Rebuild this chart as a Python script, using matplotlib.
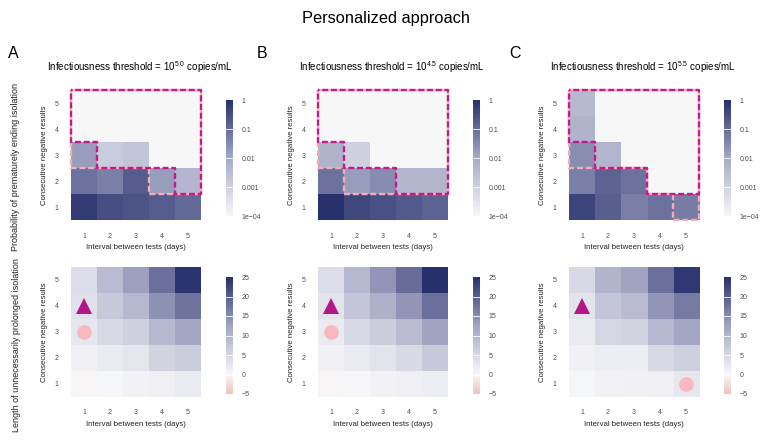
import numpy as np
import matplotlib
matplotlib.use("Agg")
import matplotlib.pyplot as plt
from matplotlib.colors import LinearSegmentedColormap, LogNorm, Normalize

plt.rcParams['font.family'] = ['Liberation Sans', 'DejaVu Sans']
plt.rcParams['mathtext.fontset'] = 'custom'
plt.rcParams['mathtext.rm'] = 'Liberation Sans'
plt.rcParams['mathtext.it'] = 'Liberation Sans'

nan = np.nan
intervals = [1, 2, 3, 4, 5]
negatives = [1, 2, 3, 4, 5]
thresholds = ["5.0", "4.5", "5.5"]
panel_letters = ["A", "B", "C"]

# probability of prematurely ending isolation, rows = consecutive negatives 1..5
prob_A = [[0.63, 0.32, 0.25, 0.18, 0.11],
          [0.08, 0.05, 0.18, 0.016, 0.005],
          [0.016, 0.0013, 0.002, nan, nan],
          [nan, nan, nan, nan, nan],
          [nan, nan, nan, nan, nan]]
prob_B = [[0.9, 0.4, 0.28, 0.2, 0.14],
          [0.08, 0.016, 0.03, 0.005, 0.005],
          [0.006, 0.001, nan, nan, nan],
          [nan, nan, nan, nan, nan],
          [nan, nan, nan, nan, nan]]
prob_C = [[0.45, 0.16, 0.05, 0.08, 0.056],
          [0.05, 0.14, 0.08, nan, nan],
          [0.028, 0.005, nan, nan, nan],
          [0.0056, nan, nan, nan, nan],
          [0.004, nan, nan, nan, nan]]

# length of unnecessarily prolonged isolation (days)
len_A = [[-0.3, 0.3, 0.8, 1.3, 2.0],
         [1.2, 2.0, 2.8, 5.5, 6.5],
         [2.5, 4.5, 6.0, 9.5, 12.0],
         [3.5, 7.0, 9.5, 14.5, 17.5],
         [4.0, 9.0, 13.0, 18.0, 24.5]]
len_B = [[-0.3, 0.2, 0.8, 1.2, 1.5],
         [1.0, 2.0, 3.0, 4.5, 7.0],
         [2.0, 4.5, 6.5, 9.0, 12.5],
         [3.0, 7.5, 10.5, 14.0, 18.0],
         [4.0, 9.5, 14.0, 18.5, 25.0]]
len_C = [[0.3, 0.8, 1.0, 1.2, 2.5],
         [1.0, 1.5, 1.5, 4.5, 6.0],
         [2.0, 5.0, 5.5, 9.5, 12.0],
         [3.0, 7.5, 9.0, 14.0, 17.0],
         [4.5, 10.0, 12.5, 18.0, 24.0]]

# outlined regions (x = interval, y = negatives), corners on cell edges
magenta_A = [(0.5, 5.5), (5.5, 5.5), (5.5, 1.5), (4.5, 1.5), (4.5, 2.5), (1.5, 2.5), (1.5, 3.5), (0.5, 3.5), (0.5, 5.5)]
pink_A = [(0.5, 5.5), (5.5, 5.5), (5.5, 1.5), (3.5, 1.5), (3.5, 2.5), (0.5, 2.5), (0.5, 5.5)]
magenta_B = [(0.5, 5.5), (5.5, 5.5), (5.5, 1.5), (3.5, 1.5), (3.5, 2.5), (1.5, 2.5), (1.5, 3.5), (0.5, 3.5), (0.5, 5.5)]
pink_B = [(0.5, 5.5), (5.5, 5.5), (5.5, 1.5), (1.5, 1.5), (1.5, 2.5), (0.5, 2.5), (0.5, 5.5)]
magenta_C = [(0.5, 5.5), (5.5, 5.5), (5.5, 1.5), (3.5, 1.5), (3.5, 2.5), (1.5, 2.5), (1.5, 3.5), (0.5, 3.5), (0.5, 5.5)]
pink_C = [(0.5, 5.5), (5.5, 5.5), (5.5, 0.5), (4.5, 0.5), (4.5, 1.5), (3.5, 1.5), (3.5, 2.5), (0.5, 2.5), (0.5, 5.5)]

# markers: triangle and circle (interval, negatives)
tri_pts = [(1, 4), (1, 4), (1, 4)]
circ_pts = [(1, 3), (1, 3), (5, 1)]

probs = [prob_A, prob_B, prob_C]
lens = [len_A, len_B, len_C]
magentas = [magenta_A, magenta_B, magenta_C]
pinks = [pink_A, pink_B, pink_C]

W, H = 771, 442
fig = plt.figure(figsize=(W / 100, H / 100), dpi=100)


def box(x0, y0, x1, y1):
    return [x0 / W, 1 - y1 / H, (x1 - x0) / W, (y1 - y0) / H]


cmap_p = LinearSegmentedColormap.from_list("p", [(0, "#f7f7f9"), (0.5, "#a6aac6"), (1, "#26306c")])
cmap_l = LinearSegmentedColormap.from_list("l", [(0, "#efc2bc"), (1 / 6, "#f8f8fa"), (0.583, "#a2a4c2"), (1, "#26306c")])
norm_p = LogNorm(1e-4, 1)
norm_l = Normalize(-5, 25)

gray = "#4d4d4d"
magenta = "#c51b8a"
pink = "#f9aab8"

fig.text(385.5 / W, 1 - 18 / H, "Personalized approach", ha="center", va="center", fontsize=11.8)
fig.text(15.5 / W, 1 - 167 / H, "Probability of prematurely ending isolation", rotation=90,
         ha="center", va="center", fontsize=6.5, color="#222222")
fig.text(17 / W, 1 - 345 / H, "Length of unnecessarily prolonged isolation", rotation=90,
         ha="center", va="center", fontsize=6.5, color="#222222")

xs = [71, 318, 569]
letter_x = [8, 257, 509]
sub_x = [140, 392, 643]


def style_axes(ax):
    ax.set_xlim(0.5, 5.5)
    ax.set_ylim(0.5, 5.5)
    ax.set_xticks(intervals)
    ax.set_yticks(negatives)
    ax.tick_params(length=0, labelsize=5, labelcolor=gray, pad=9)
    for s in ax.spines.values():
        s.set_visible(False)
    ax.set_ylabel("Consecutive negative results", fontsize=5.6, color="#222222", labelpad=5)
    ax.set_xlabel("Interval between tests (days)", fontsize=5.6, color="#222222", labelpad=3)


for i in range(3):
    x0 = xs[i]
    fig.text(letter_x[i] / W, 1 - 53 / H, panel_letters[i], ha="left", va="center", fontsize=11.5)
    fig.text(sub_x[i] / W, 1 - 67 / H,
             r"Infectiousness threshold = 10$^{" + thresholds[i] + r"}$ copies/mL",
             ha="center", va="center", fontsize=7)

    # top row: probability
    ax = fig.add_axes(box(x0, 90, x0 + 130, 220))
    ax.set_facecolor("#f7f7f7")
    ax.imshow(np.array(probs[i]), cmap=cmap_p, norm=norm_p, origin="lower",
              extent=(0.5, 5.5, 0.5, 5.5), aspect="auto", interpolation="nearest")
    px_, py_ = zip(*pinks[i])
    ax.plot(px_, py_, color=pink, lw=1.7, linestyle=(0, (2.5, 1.2)), zorder=3, clip_on=False)
    mx_, my_ = zip(*magentas[i])
    ax.plot(mx_, my_, color=magenta, lw=1.7, linestyle=(1.9, (2.5, 1.2)), zorder=4, clip_on=False)
    style_axes(ax)

    cax = fig.add_axes(box(x0 + 155, 100, x0 + 162, 216))
    cb = fig.colorbar(plt.cm.ScalarMappable(norm=norm_p, cmap=cmap_p), cax=cax)
    cb.set_ticks([1e-4, 1e-3, 1e-2, 1e-1, 1])
    cb.set_ticklabels(["1e\u221204", "0.001", "0.01", "0.1", "1"])
    cb.outline.set_visible(False)
    cax.tick_params(length=0, labelsize=5, labelcolor=gray, pad=6)
    cax.minorticks_off()
    for v in [1e-3, 1e-2, 1e-1]:
        cax.axhline(v, color="white", lw=0.6)

    # bottom row: length of prolonged isolation
    ax2 = fig.add_axes(box(x0, 267, x0 + 130, 397))
    ax2.imshow(np.array(lens[i]), cmap=cmap_l, norm=norm_l, origin="lower",
               extent=(0.5, 5.5, 0.5, 5.5), aspect="auto", interpolation="nearest")
    ax2.plot([tri_pts[i][0]], [tri_pts[i][1]], marker="^", markersize=11, color="#b5178b",
             linestyle="none", markeredgewidth=0, zorder=4)
    ax2.plot([circ_pts[i][0]], [circ_pts[i][1]], marker="o", markersize=10.5, color="#f7b9bf",
             linestyle="none", markeredgewidth=0, zorder=4)
    style_axes(ax2)

    cax2 = fig.add_axes(box(x0 + 155, 277, x0 + 162, 394))
    cb2 = fig.colorbar(plt.cm.ScalarMappable(norm=norm_l, cmap=cmap_l), cax=cax2)
    cb2.set_ticks([-5, 0, 5, 10, 15, 20, 25])
    cb2.set_ticklabels(["\u22125", "0", "5", "10", "15", "20", "25"])
    cb2.outline.set_visible(False)
    cax2.tick_params(length=0, labelsize=5, labelcolor=gray, pad=6)
    for v in [0, 5, 10, 15, 20]:
        cax2.axhline(v, color="white", lw=0.6)

fig.savefig("out.png", dpi=100)
